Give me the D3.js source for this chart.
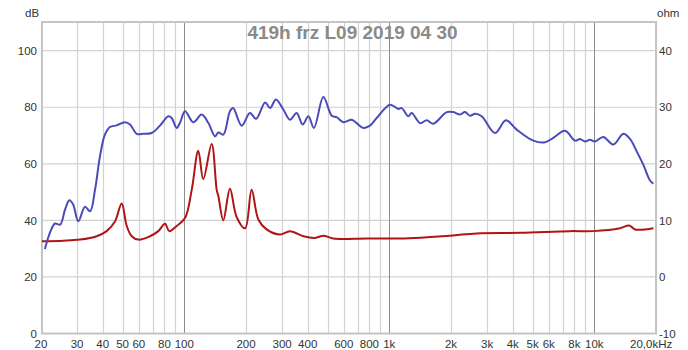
<!DOCTYPE html>
<html>
<head>
<meta charset="utf-8">
<script src="https://cdn.jsdelivr.net/npm/d3@7/dist/d3.min.js"></script>
<style>
  html, body { margin: 0; padding: 0; background: #fff; }
  svg { display: block; font-family: "Liberation Sans", Arial, sans-serif; }
</style>
</head>
<body>
<svg id="chart" width="688" height="350"></svg>
<script>
// Measurement title
const title = "419h frz L09 2019 04 30";

// Frequency response (SPL, dB) : frequency in Hz
const splFreq = [20.9, 22.1, 23.4, 24.8, 26.2, 27.5, 28.7, 30.4, 32.8, 34.7, 36.7, 38.8, 41.0, 43.4, 46.8, 51.4, 54.4, 58.6, 63.1, 69.3, 76.1, 83.6, 86.8, 91.8, 95.3, 100.8, 110.7, 121.6, 130.9, 141.3, 146.6, 155, 167, 173, 190.6, 209, 224, 248, 262, 280, 304, 328, 353, 378, 403, 429, 477, 524, 554, 597, 656, 693, 747, 805, 868, 1008, 1107, 1150, 1238, 1286, 1413, 1523, 1640, 1906, 2052, 2213, 2339, 2476, 2618, 2824, 3278, 3707, 4184, 5041, 5748, 6311, 7196, 8054, 8517, 9010, 9528, 10080, 11066, 12380, 13854, 14930, 16100, 17340, 18700, 19410];
const splDb = [29.9, 35.6, 38.9, 38.5, 43.8, 47.1, 45.6, 39.7, 44.8, 43.2, 50.9, 62.7, 70.3, 73.0, 73.6, 74.7, 73.9, 70.6, 70.6, 70.9, 73.5, 76.8, 76.2, 72.7, 74.5, 78.6, 74.7, 77.4, 74.5, 69.7, 71.1, 70.3, 78.6, 79.7, 73.5, 78.0, 75.9, 81.7, 79.7, 82.7, 79.2, 75.6, 78.0, 73.9, 76.8, 72.7, 83.6, 77.0, 76.5, 74.7, 75.6, 74.4, 72.7, 73.5, 76.2, 80.9, 79.4, 79.7, 76.8, 78.0, 74.4, 75.4, 74.2, 78.3, 78.3, 77.4, 78.3, 77.0, 77.7, 76.8, 70.9, 75.4, 72.1, 68.2, 67.6, 69.2, 71.7, 68.2, 68.8, 67.9, 68.5, 67.9, 69.5, 66.8, 70.6, 68.8, 64.4, 59.7, 54.1, 53.0];

// Impedance magnitude (ohm) : frequency in Hz
const impFreq = [20.2, 25.7, 31, 37.4, 41.8, 45.9, 49.5, 52.4, 55.4, 59.7, 68, 74.7, 80.5, 84.5, 91.8, 100.8, 108.7, 117, 123.8, 136, 143.9, 146.6, 155, 167, 180, 198, 213, 230, 252, 293, 328, 381, 434, 477, 533, 776, 1128, 1978, 2670, 4342, 7612, 9888, 13340, 14820, 15800, 19410];
const impOhm = [6.3, 6.4, 6.6, 7.2, 8.1, 9.8, 13.0, 9.0, 7.2, 6.6, 7.2, 8.1, 9.4, 8.1, 9.0, 10.4, 15.4, 22.3, 17.3, 23.5, 15.4, 14.3, 10.0, 15.6, 10.6, 8.6, 15.4, 10.1, 8.4, 7.5, 8.1, 7.2, 6.9, 7.3, 6.8, 6.8, 6.8, 7.3, 7.7, 7.8, 8.1, 8.1, 8.6, 9.1, 8.4, 8.6];

// Axis ticks
const dbTicks = [0, 20, 40, 60, 80, 100];
const ohmTicks = [-10, 0, 10, 20, 30, 40];
const gridFreqs = [20, 30, 40, 50, 60, 70, 80, 90, 100, 200, 300, 400, 500, 600, 700, 800, 900, 1000, 2000, 3000, 4000, 5000, 6000, 7000, 8000, 9000, 10000, 20000];
const decadeFreqs = [100, 1000, 10000];
const freqTicks = [20, 30, 40, 50, 60, 80, 100, 200, 300, 400, 600, 800, 1000, 2000, 3000, 4000, 5000, 6000, 8000, 10000];
const freqTickLabels = ["20", "30", "40", "50", "60", "80", "100", "200", "300", "400", "600", "800", "1k", "2k", "3k", "4k", "5k", "6k", "8k", "10k"];
const lastFreqLabel = "20,0kHz";

const svg = d3.select("#chart");
const plotL = 41, plotR = 656, plotT = 21, plotB = 334;

const x = d3.scaleLog().domain([20, 20000]).range([plotL, plotR]);
const yDb = d3.scaleLinear().domain([0, 100]).range([333.5, 50.7]);
const yOhm = d3.scaleLinear().domain([-10, 40]).range([333.5, 50.7]);

const g = svg.append("g");

// horizontal grid
g.selectAll("line.hgrid").data(dbTicks).join("line")
  .attr("x1", plotL).attr("x2", plotR)
  .attr("y1", d => yDb(d)).attr("y2", d => yDb(d))
  .attr("stroke", "#d2d2d2").attr("stroke-width", 1.2);

// vertical grid
g.selectAll("line.vgrid").data(gridFreqs).join("line")
  .attr("x1", d => Math.round(x(d)) + 0.5).attr("x2", d => Math.round(x(d)) + 0.5)
  .attr("y1", plotT).attr("y2", plotB)
  .attr("stroke", d => decadeFreqs.includes(d) ? "#8c8c8c" : "#d2d2d2")
  .attr("stroke-width", d => decadeFreqs.includes(d) ? 1 : 1.2);

// frame
g.append("rect")
  .attr("x", plotL + 1).attr("y", plotT + 1)
  .attr("width", plotR - plotL - 1).attr("height", plotB - plotT - 1.5)
  .attr("fill", "none").attr("stroke", "#c4c4c4").attr("stroke-width", 2);

// title
svg.append("text")
  .attr("x", 352.5).attr("y", 39)
  .attr("text-anchor", "middle")
  .attr("font-size", 19).attr("font-weight", "bold")
  .attr("fill", "#8a8a8a")
  .text(title);

// curves
const splLine = d3.line()
  .x(i => x(splFreq[i])).y(i => yDb(splDb[i]))
  .curve(d3.curveCatmullRom.alpha(0.5));
const impLine = d3.line()
  .x(i => x(impFreq[i])).y(i => yOhm(impOhm[i]))
  .curve(d3.curveCatmullRom.alpha(0.5));

svg.append("path")
  .attr("d", impLine(d3.range(impFreq.length)))
  .attr("fill", "none").attr("stroke", "#b01515").attr("stroke-width", 2)
  .attr("stroke-linejoin", "round");
svg.append("path")
  .attr("d", splLine(d3.range(splFreq.length)))
  .attr("fill", "none").attr("stroke", "#4a4ab8").attr("stroke-width", 2)
  .attr("stroke-linejoin", "round");

// left axis labels
const labelColor = "#333";
svg.append("text").attr("x", 25).attr("y", 17).attr("font-size", 11.5).attr("fill", labelColor).text("dB");
svg.selectAll("text.ldb").data(dbTicks).join("text")
  .attr("x", 37).attr("y", d => yDb(d) + 4.2)
  .attr("text-anchor", "end").attr("font-size", 11.5).attr("fill", labelColor)
  .text(d => d);

// right axis labels
svg.append("text").attr("x", 657).attr("y", 17).attr("font-size", 11.5).attr("fill", labelColor).text("ohm");
svg.selectAll("text.rohm").data(ohmTicks).join("text")
  .attr("x", 659).attr("y", d => yOhm(d) + 4.2)
  .attr("font-size", 11.5).attr("fill", labelColor)
  .text(d => d);

// frequency labels
svg.selectAll("text.freq").data(freqTicks).join("text")
  .attr("x", d => x(d)).attr("y", 348)
  .attr("text-anchor", "middle").attr("font-size", 11.5).attr("fill", labelColor)
  .text((d, i) => freqTickLabels[i]);
svg.append("text")
  .attr("x", 630).attr("y", 348)
  .attr("font-size", 11.5).attr("fill", labelColor)
  .text(lastFreqLabel);
</script>
</body>
</html>
